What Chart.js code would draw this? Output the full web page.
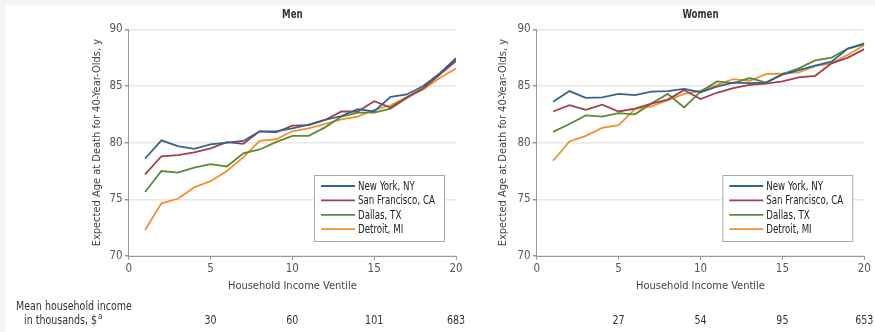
<!DOCTYPE html>
<html>
<head>
<meta charset="utf-8">
<script src="https://cdn.jsdelivr.net/npm/chart.js@4.4.1/dist/chart.umd.min.js"></script>
<style>
  html, body { margin: 0; padding: 0; background: #f5f5f5; }
  #page { position: relative; width: 875px; height: 332px; overflow: hidden; }
  #panel { position: absolute; left: 6px; top: 5px; right: 0; bottom: 0; background: #fff; }
  canvas { position: absolute; top: 0; }
  #menChart { left: 0; }
  #womenChart { left: 470px; }
</style>
</head>
<body>
<div id="page">
  <div id="panel"></div>
  <canvas id="menChart" width="470" height="332"></canvas>
  <canvas id="womenChart" width="405" height="332"></canvas>
</div>
<script>
const FONT = "'DejaVu Sans Condensed', 'Liberation Sans', sans-serif";

// ventiles 1..20
const ventiles = [1, 2, 3, 4, 5, 6, 7, 8, 9, 10, 11, 12, 13, 14, 15, 16, 17, 18, 19, 20];
const cities = ["New York, NY", "San Francisco, CA", "Dallas, TX", "Detroit, MI"];
const cityColors = ["#33638f", "#a53d4d", "#5b8a38", "#f2912e"];

// Men
const menNY      = [78.6, 80.2, 79.7, 79.45, 79.85, 80.0, 80.15, 81.0, 81.0, 81.25, 81.6, 82.0, 82.35, 82.95, 82.75, 84.05, 84.25, 85.0, 86.1, 87.45];
const menSF      = [77.2, 78.8, 78.9, 79.15, 79.5, 80.05, 79.9, 81.0, 80.9, 81.5, 81.55, 82.0, 82.75, 82.75, 83.65, 83.1, 84.0, 84.8, 86.0, 87.2];
const menDallas  = [75.65, 77.5, 77.35, 77.8, 78.1, 77.9, 79.05, 79.4, 80.05, 80.6, 80.6, 81.35, 82.3, 82.65, 82.65, 83.0, 83.95, 84.8, 86.0, 87.3];
const menDetroit = [72.3, 74.65, 75.05, 76.05, 76.6, 77.5, 78.7, 80.15, 80.3, 81.0, 81.25, 81.65, 82.05, 82.3, 82.9, 83.3, 84.0, 84.7, 85.7, 86.55];

// Women
const womenNY      = [83.6, 84.55, 83.95, 84.0, 84.3, 84.2, 84.5, 84.55, 84.75, 84.45, 84.95, 85.3, 85.25, 85.3, 86.0, 86.4, 86.8, 87.15, 88.3, 88.7];
const womenSF      = [82.75, 83.3, 82.9, 83.35, 82.75, 83.0, 83.45, 83.8, 84.65, 83.85, 84.4, 84.8, 85.1, 85.2, 85.4, 85.75, 85.9, 87.0, 87.5, 88.25];
const womenDallas  = [80.95, 81.65, 82.4, 82.3, 82.6, 82.5, 83.45, 84.3, 83.1, 84.5, 85.4, 85.25, 85.7, 85.3, 86.05, 86.55, 87.25, 87.5, 88.3, 88.75];
const womenDetroit = [78.4, 80.1, 80.6, 81.3, 81.55, 82.95, 83.2, 83.75, 84.3, 84.6, 85.1, 85.6, 85.45, 86.05, 86.1, 86.2, 86.75, 87.0, 87.75, 88.6];

// mean household income (thousands) under ventiles 5, 10, 15, 20
const incomeVentiles = [5, 10, 15, 20];
const menIncome = ["30", "60", "101", "683"];
const womenIncome = ["27", "54", "95", "653"];

Chart.defaults.font.family = FONT;
Chart.defaults.font.size = 11;
Chart.defaults.color = "#555";

function buildDatasets(series) {
  return series.map((vals, i) => ({
    label: cities[i],
    data: ventiles.map((v, j) => ({ x: v, y: vals[j] })),
    borderColor: cityColors[i],
    backgroundColor: cityColors[i],
    borderWidth: 1.8,
    pointRadius: 0,
    tension: 0
  }));
}

// narrow text: squeeze horizontally like the condensed face of the original
function narrowText(ctx, text, x, y, squeeze) {
  const w = ctx.measureText(text).width;
  ctx.fillText(text, x, y, w * squeeze);
  return w * squeeze;
}

// titles, income row and boxed legend
const panelDecor = {
  id: "panelDecor",
  afterDraw(chart, args, opts) {
    const { ctx, chartArea, scales } = chart;
    ctx.save();

    ctx.font = "bold 12px " + FONT;
    ctx.fillStyle = "#333";
    ctx.textAlign = "center";
    ctx.textBaseline = "middle";
    narrowText(ctx, opts.title, (chartArea.left + chartArea.right) / 2, 15, 0.8);

    ctx.font = "12px " + FONT;
    ctx.fillStyle = "#333";
    opts.income.forEach((v, i) => {
      narrowText(ctx, v, scales.x.getPixelForValue(incomeVentiles[i]), 321, 0.88);
    });

    if (opts.rowLabel) {
      ctx.textAlign = "left";
      narrowText(ctx, "Mean household income", 16, 307, 0.88);
      const w = narrowText(ctx, "in thousands, $", 24, 321, 0.88);
      ctx.font = "8px " + FONT;
      ctx.fillText("a", 24 + w + 1, 317);
    }

    // legend
    const bw = 130, bh = 66;
    const bx = chartArea.right - 12 - bw;
    const by = chartArea.bottom - 15 - bh;
    ctx.fillStyle = "#fff";
    ctx.fillRect(bx, by, bw, bh);
    ctx.strokeStyle = "#aaa";
    ctx.lineWidth = 1;
    ctx.strokeRect(bx + 0.5, by + 0.5, bw, bh);
    ctx.font = "12.5px " + FONT;
    ctx.textAlign = "left";
    chart.data.datasets.forEach((ds, i) => {
      const y = by + 11 + i * 14.4;
      ctx.strokeStyle = ds.borderColor;
      ctx.lineWidth = 1.8;
      ctx.beginPath();
      ctx.moveTo(bx + 7, y);
      ctx.lineTo(bx + 41, y);
      ctx.stroke();
      ctx.fillStyle = "#222";
      narrowText(ctx, ds.label, bx + 44, y + 0.5, 0.77);
    });
    ctx.restore();
  }
};

function makeChart(id, series, title, income, rowLabel, yWidth, yTitlePad, rightPad) {
  return new Chart(document.getElementById(id), {
    type: "line",
    data: { datasets: buildDatasets(series) },
    plugins: [panelDecor],
    options: {
      responsive: false,
      animation: false,
      devicePixelRatio: 1,
      layout: { padding: { top: 29.3, right: rightPad, left: 0, bottom: 0 } },
      plugins: {
        legend: { display: false },
        tooltip: { enabled: false },
        panelDecor: { title, income, rowLabel }
      },
      scales: {
        x: {
          type: "linear",
          min: 0, max: 20,
          ticks: { stepSize: 5, padding: 2, color: "#555", font: { size: 11.5 } },
          grid: { drawOnChartArea: false, drawTicks: true, tickLength: 4, color: "#999" },
          border: { color: "#999", width: 1 },
          title: {
            display: true, text: "Household Income Ventile", color: "#444",
            font: { size: 11 }, padding: { top: 0, bottom: 39.5 }
          },
          afterFit: s => { s.height = 76; }
        },
        y: {
          min: 70, max: 90,
          ticks: { stepSize: 5, padding: 2, color: "#555", font: { size: 11.5 } },
          grid: { color: "#e6e6e6", lineWidth: 1.5, tickColor: "#999", tickLength: 4 },
          border: { color: "#999", width: 1 },
          title: {
            display: true, text: "Expected Age at Death for 40-Year-Olds, y", color: "#444",
            font: { size: 11 }, padding: { top: yTitlePad, bottom: 0 }
          },
          afterFit: s => { s.width = yWidth; }
        }
      }
    }
  });
}

makeChart("menChart", [menNY, menSF, menDallas, menDetroit], "Men", menIncome, true, 128.7, 90.7, 14);
makeChart("womenChart", [womenNY, womenSF, womenDallas, womenDetroit], "Women", womenIncome, false, 66.7, 26.7, 10.7);
</script>
</body>
</html>
